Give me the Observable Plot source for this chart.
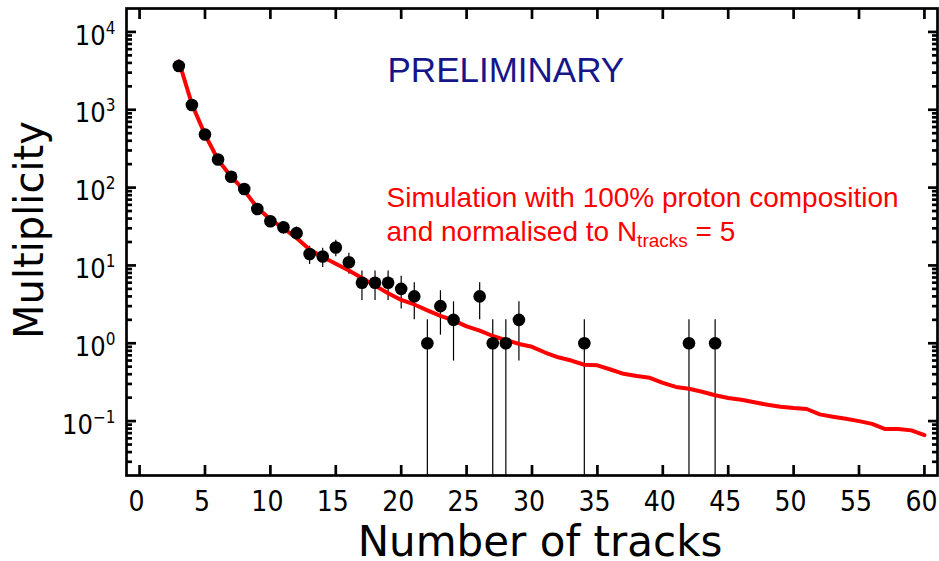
<!DOCTYPE html>
<html>
<head>
<meta charset="utf-8">
<script src="https://cdn.jsdelivr.net/npm/d3@7"></script>
<script src="https://cdn.jsdelivr.net/npm/@observablehq/plot@0.6"></script>
<style>
  body { margin: 0; background: #fff; }
  #chart svg { display: block; }
</style>
</head>
<body>
<div id="chart"></div>
<script>
// ---- data ----
const tracks = [3,4,5,6,7,8,9,10,11,12,13,14,15,16,17,18,19,20,21,22,23,24,26,27,28,29,34,42,44];
const counts = [3650,1150,480,230,138,96,53,37,31,26,14,13,17,11,6,6,6,5,4,1,3,2,4,1,1,2,1,1,1];
const errors = [60.4,33.9,21.9,15.2,11.7,9.8,7.3,6.1,5.6,5.1,3.7,3.6,4.1,3.3,2.45,2.45,2.45,2.24,2,1,1.73,1.41,2,1,1,1.41,1,1,1];

const simTracks = [3,4,5,6,7,8,9,10,11,12,13,14,15,16,17,18,19,20,21,22,23,24,25,26,27,28,29,30,31,32,33,34,35,36,37,38,39,40,41,42,43,44,45,46,47,48,49,50,51,52,53,54,55,56,57,58,59,60];
const simValues = [4200,1180,480,228,138,92,55,39,30,22.5,16,12.8,10.5,8.6,6.9,5.5,4.4,3.6,3.15,2.65,2.25,1.97,1.65,1.45,1.24,1.1,0.98,0.9,0.76,0.66,0.6,0.53,0.52,0.46,0.405,0.38,0.36,0.31,0.275,0.26,0.238,0.215,0.198,0.188,0.175,0.162,0.153,0.147,0.143,0.122,0.114,0.107,0.1,0.092,0.079,0.079,0.076,0.066];

const xTicks = [0,5,10,15,20,25,30,35,40,45,50,55,60];
const yMajorTicks = [0.1,1,10,100,1000,10000];
const xLabel = "Number of tracks";
const yLabel = "Multiplicity";
const prelimText = "PRELIMINARY";
const simLines = ["Simulation with 100% proton composition", "and normalised to N_tracks = 5"];

// ---- layout ----
const xDomain = [-1, 61];
const yDomain = [0.02, 2e4];
const yMinorTicks = [];
for (let e = -2; e <= 4; e++) for (let m = 2; m <= 9; m++) {
  const v = m * Math.pow(10, e);
  if (v > yDomain[0] * 1.001 && v < yDomain[1] * 0.999) yMinorTicks.push(v);
}

const points = tracks.map((t, i) => ({
  t, n: counts[i],
  lo: Math.max(counts[i] - errors[i], yDomain[0]),
  hi: counts[i] + errors[i]
}));
const sim = simTracks.map((t, i) => ({t, v: simValues[i]}));

const tickFont = "'Liberation Sans Narrow', 'DejaVu Sans Condensed', 'Liberation Sans', sans-serif";
const axisTitleFont = "'DejaVu Sans', sans-serif";
const textFont = "'Liberation Sans', Arial, sans-serif";
const lw = 2.7;

const annot = {
  prelim: {x: 28, y: 2300},
  sim: [{x: 18.88, y: 57, text: simLines[0]}, {x: 18.88, y: 20.3, text: simLines[1]}]
};

const chart = Plot.plot({
  width: 939,
  height: 561,
  marginLeft: 126,
  marginRight: 2,
  marginTop: 8,
  marginBottom: 86,
  style: {background: "white", fontFamily: textFont, color: "black"},
  x: {domain: xDomain, label: null},
  y: {type: "log", domain: yDomain, label: null},
  marks: [
    // error bars
    Plot.ruleX(points, {x: "t", y1: "lo", y2: "hi", stroke: "black", strokeWidth: 1.2}),
    // simulation curve
    Plot.line(sim, {x: "t", y: "v", stroke: "#ff0000", strokeWidth: 4}),
    // data points
    Plot.dot(points, {x: "t", y: "n", r: 6.3, fill: "black"}),
    // frame
    Plot.frame({stroke: "black", strokeWidth: lw}),
    // x ticks (inward, bottom and top)
    Plot.axisX({ticks: xTicks, anchor: "bottom", tickSize: -10, strokeWidth: lw, tickFormat: () => "", label: null}),
    Plot.axisX({ticks: xTicks, anchor: "top", tickSize: -10, strokeWidth: lw, tickFormat: () => "", label: null}),
    // x tick labels
    Plot.axisX({ticks: xTicks, anchor: "bottom", tickSize: 0, tickPadding: 16, dx: -3, fontSize: 28, fontFamily: tickFont, tickFormat: d => String(d), label: null}),
    // y ticks (inward, left and right)
    Plot.axisY({ticks: yMajorTicks, anchor: "left", tickSize: -10, strokeWidth: lw, tickFormat: () => "", label: null}),
    Plot.axisY({ticks: yMinorTicks, anchor: "left", tickSize: -6, strokeWidth: lw, tickFormat: () => "", label: null}),
    Plot.axisY({ticks: yMajorTicks, anchor: "right", tickSize: -10, strokeWidth: lw, tickFormat: () => "", label: null}),
    Plot.axisY({ticks: yMinorTicks, anchor: "right", tickSize: -6, strokeWidth: lw, tickFormat: () => "", label: null}),
    // y tick labels
    Plot.axisY({ticks: yMajorTicks, anchor: "left", tickSize: 0, tickPadding: 11, dy: 4, fontSize: 27, fontFamily: tickFont,
      tickFormat: d => "10^" + Math.round(Math.log10(d)), label: null}),
    // axis titles
    Plot.text([xLabel], {frameAnchor: "bottom", dx: 8, dy: 80, text: d => d, fontSize: 42, fontFamily: axisTitleFont, lineAnchor: "bottom", textAnchor: "middle", fill: "black"}),
    Plot.text([yLabel], {frameAnchor: "left", dx: -84, dy: -12, rotate: -90, text: d => d, fontSize: 40, fontFamily: axisTitleFont, lineAnchor: "bottom", textAnchor: "middle", fill: "black"}),
    // annotations
    Plot.text([prelimText], {x: () => annot.prelim.x, y: () => annot.prelim.y, text: d => d, fontSize: 35, fontFamily: textFont, fill: "#16168a", lineAnchor: "bottom", textAnchor: "middle"}),
    Plot.text(annot.sim, {x: "x", y: "y", text: "text", fontSize: 28, fontFamily: textFont, fill: "#ff0000", lineAnchor: "bottom", textAnchor: "start"})
  ]
});

// superscripts / subscripts as real text
d3.select(chart).selectAll("text").each(function() {
  const t = d3.select(this);
  const s = this.textContent;
  let m = /^10\^(-?\d+)$/.exec(s);
  if (m) {
    t.text(null);
    t.append("tspan").text("10");
    t.append("tspan").attr("font-size", 17).attr("dy", -11).text(m[1].replace("-", "\u2212"));
    return;
  }
  if (s.indexOf("N_tracks") >= 0) {
    const [a, b] = s.split("N_tracks");
    t.text(null).style("white-space", "pre");
    t.append("tspan").text(a + "N");
    t.append("tspan").attr("font-size", 19).attr("dy", 6).text("tracks");
    t.append("tspan").attr("dy", -6).text(b);
  }
});

document.getElementById("chart").appendChild(chart);
</script>
</body>
</html>
